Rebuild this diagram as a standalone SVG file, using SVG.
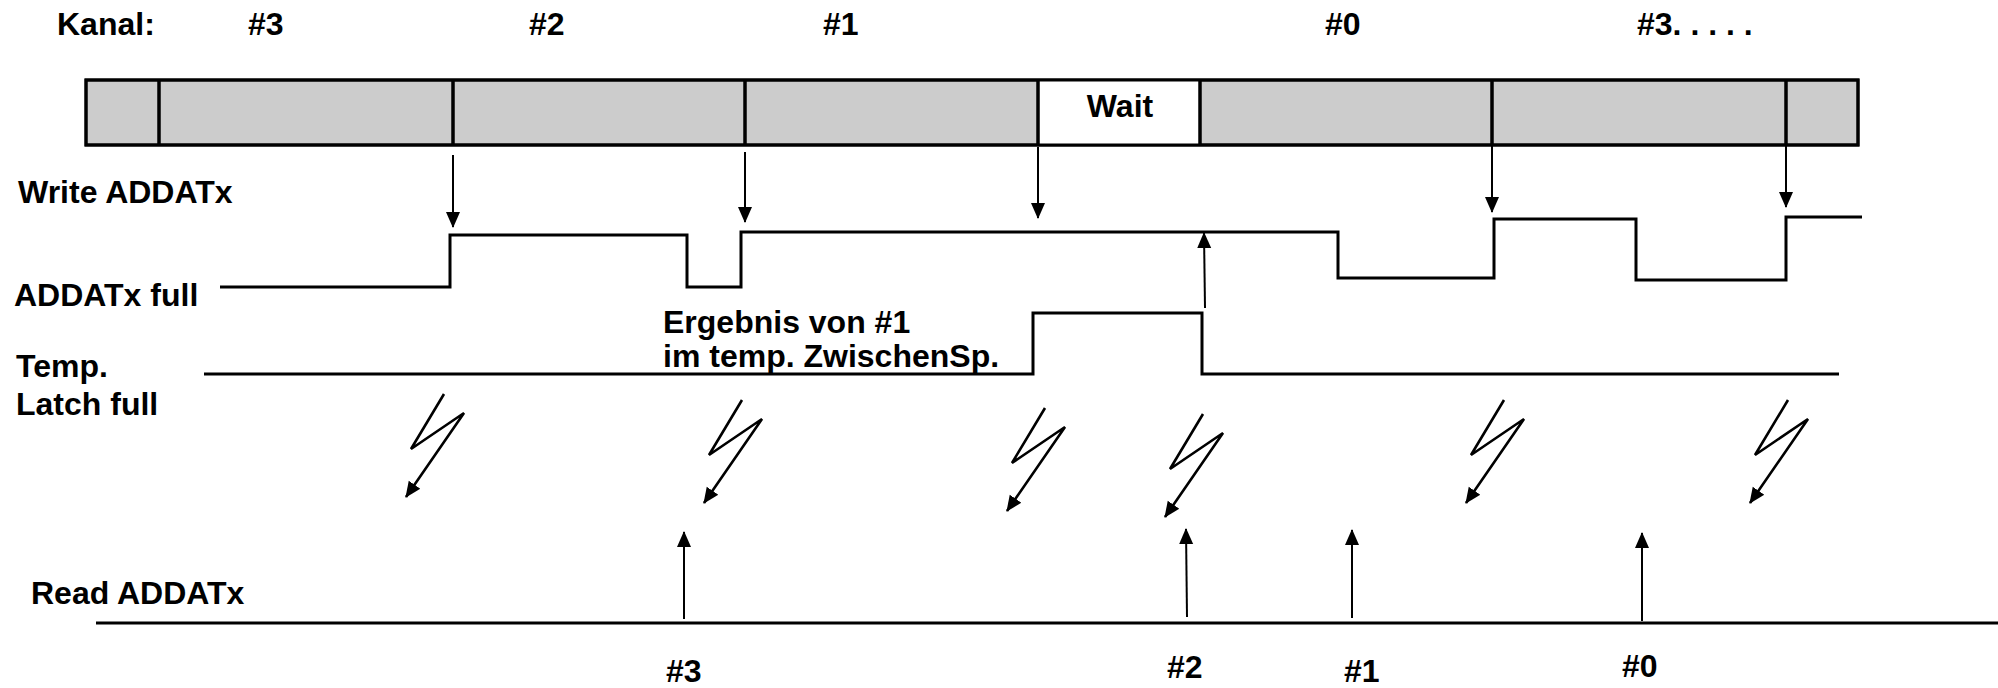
<svg xmlns="http://www.w3.org/2000/svg" width="1998" height="688" viewBox="0 0 1998 688">
<style>
text{font-family:"Liberation Sans",Arial,sans-serif;font-weight:bold;font-size:32px;fill:#000}
.sig{fill:none;stroke:#000;stroke-width:3}
.arr{fill:none;stroke:#000;stroke-width:2;marker-end:url(#ah)}
.bolt{fill:none;stroke:#000;stroke-width:2.6;stroke-linejoin:miter;marker-end:url(#ah)}
.div{stroke:#000;stroke-width:3.5}
</style>
<defs>
<marker id="ah" viewBox="0 0 16 16" refX="15" refY="8" markerWidth="16" markerHeight="16" markerUnits="userSpaceOnUse" orient="auto">
<path d="M0,1 L16,8 L0,15 z" fill="#000"/>
</marker>
<path id="boltShape" d="M0,0 L-33,55 L20,19 L-38,103"/>
</defs>
<rect width="1998" height="688" fill="#fff"/>

<g id="kanal-labels">
<text x="57" y="35">Kanal:</text>
<text x="248" y="35">#3</text>
<text x="529" y="35">#2</text>
<text x="823" y="35">#1</text>
<text x="1325" y="35">#0</text>
<text x="1637" y="35">#3. . . . .</text>
</g>

<g id="channel-bar">
<rect x="86" y="80" width="1772" height="65" fill="#cccccc" stroke="#000" stroke-width="3"/>
<rect x="1038" y="80" width="162" height="65" fill="#fff" stroke="none"/>
<line class="div" x1="159" y1="80" x2="159" y2="145"/>
<line class="div" x1="453" y1="80" x2="453" y2="145"/>
<line class="div" x1="745" y1="80" x2="745" y2="145"/>
<line class="div" x1="1038" y1="80" x2="1038" y2="145"/>
<line class="div" x1="1200" y1="80" x2="1200" y2="145"/>
<line class="div" x1="1492" y1="80" x2="1492" y2="145"/>
<line class="div" x1="1786" y1="80" x2="1786" y2="145"/>
<rect x="86" y="80" width="1772" height="65" fill="none" stroke="#000" stroke-width="3"/>
<text x="1120" y="117" text-anchor="middle">Wait</text>
</g>

<g id="signal-labels">
<text x="18" y="203">Write ADDATx</text>
<text x="14" y="306">ADDATx full</text>
<text x="16" y="377">Temp.</text>
<text x="16" y="415">Latch full</text>
<text x="31" y="604">Read ADDATx</text>
<text x="663" y="333">Ergebnis von #1</text>
<text x="663" y="367">im temp. ZwischenSp.</text>
</g>

<g id="signal-addatx-full">
<path class="sig" d="M220,287 H450 V235 H687 V287 H741 V232 H1338 V278 H1494 V219 H1636 V280 H1786 V217 H1862"/>
</g>

<g id="signal-temp-latch">
<path class="sig" d="M204,374 H1033 V313 H1202 V374 H1839"/>
</g>

<g id="signal-read">
<path class="sig" d="M96,623 H1998"/>
</g>

<g id="bottom-labels">
<text x="666" y="682">#3</text>
<text x="1167" y="678">#2</text>
<text x="1344" y="682">#1</text>
<text x="1622" y="677">#0</text>
</g>

<g id="connectors">
<line class="arr" x1="453" y1="155" x2="453" y2="227"/>
<line class="arr" x1="745" y1="152" x2="745" y2="222"/>
<line class="arr" x1="1038" y1="147" x2="1038" y2="218"/>
<line class="arr" x1="1492" y1="142" x2="1492" y2="212"/>
<line class="arr" x1="1786" y1="137" x2="1786" y2="207"/>
<line class="arr" x1="1205" y1="308" x2="1204" y2="233"/>
<line class="arr" x1="684" y1="619" x2="684" y2="532"/>
<line class="arr" x1="1187" y1="617" x2="1186" y2="529"/>
<line class="arr" x1="1352" y1="618" x2="1352" y2="530"/>
<line class="arr" x1="1642" y1="621" x2="1642" y2="533"/>
<use href="#boltShape" class="bolt" transform="translate(444,394)"/>
<use href="#boltShape" class="bolt" transform="translate(742,400)"/>
<use href="#boltShape" class="bolt" transform="translate(1045,408)"/>
<use href="#boltShape" class="bolt" transform="translate(1203,414)"/>
<use href="#boltShape" class="bolt" transform="translate(1504,400)"/>
<use href="#boltShape" class="bolt" transform="translate(1788,400)"/>
</g>
</svg>
